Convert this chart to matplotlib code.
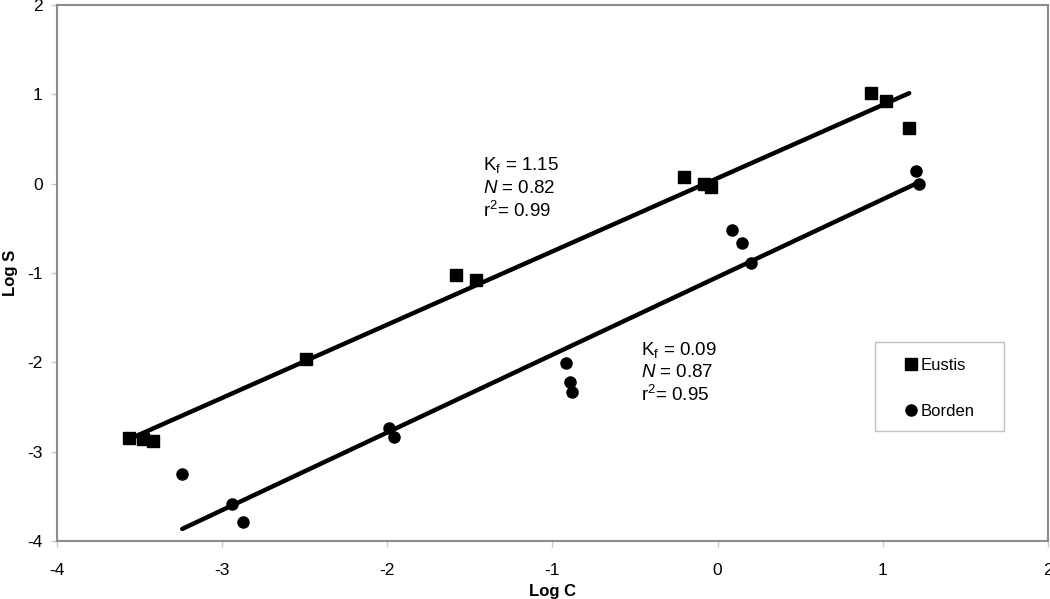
import numpy as np
import matplotlib
matplotlib.use('Agg')
import matplotlib.pyplot as plt
from matplotlib.patches import Rectangle

plt.rcParams['font.family'] = ['Liberation Sans', 'DejaVu Sans']
plt.rcParams['axes.unicode_minus'] = False
plt.rcParams['mathtext.fontset'] = 'custom'
plt.rcParams['mathtext.rm'] = 'Liberation Sans'
plt.rcParams['mathtext.it'] = 'Liberation Sans:italic'

# Eustis (squares)
eustis_x = [-3.56, -3.48, -3.42, -2.49, -1.58, -1.46, -0.20, -0.08, -0.04, 0.93, 1.02, 1.16]
eustis_y = [-2.85, -2.86, -2.88, -1.96, -1.02, -1.08, 0.07, 0.00, -0.04, 1.01, 0.92, 0.62]

# Borden (circles)
borden_x = [-3.24, -2.94, -2.87, -1.99, -1.96, -0.92, -0.89, -0.88, 0.09, 0.15, 0.20, 1.20, 1.22]
borden_y = [-3.25, -3.59, -3.79, -2.73, -2.84, -2.01, -2.22, -2.33, -0.52, -0.67, -0.89, 0.14, 0.00]

# Freundlich fit parameters
eustis_kf, eustis_n, eustis_r2 = 1.15, 0.82, 0.99
borden_kf, borden_n, borden_r2 = 0.09, 0.87, 0.95

fig = plt.figure(figsize=(10.5, 5.99), dpi=100)
ax = fig.add_axes([0.054, 0.0968, 0.944, 0.895])

# fitted lines
for xs, kf, n in [(eustis_x, eustis_kf, eustis_n), (borden_x, borden_kf, borden_n)]:
    lx = np.array([min(xs), max(xs)])
    ax.plot(lx, np.log10(kf) + n * lx, color='black', lw=3.2, solid_capstyle='round', zorder=2)

ax.plot(eustis_x, eustis_y, 's', color='black', ms=8.5, label='Eustis', zorder=3)
ax.plot(borden_x, borden_y, 'o', color='black', ms=8, label='Borden', zorder=3)

ax.set_xlim(-4, 2)
ax.set_ylim(-4, 2)
ax.set_xticks(range(-4, 3))
ax.set_yticks(range(-4, 3))

for s in ax.spines.values():
    s.set_color('#8c8c8c')
    s.set_linewidth(1.5)
ax.tick_params(direction='out', length=4, width=1, color='#c8c8c8', labelsize=12.5, pad=12)
ax.tick_params(axis='y', pad=6)

ax.set_xlabel('Log C', fontsize=12, fontweight='bold', labelpad=4)
ax.set_ylabel('Log S', fontsize=12, fontweight='bold', labelpad=7)

# annotations
fs = 13.5
ax.text(-1.42, 0.21, r'K$_\mathrm{f}$ = %.2f' % eustis_kf, fontsize=fs, va='center')
ax.text(-1.42, -0.05, r'$\mathit{N}$ = %.2f' % eustis_n, fontsize=fs, va='center')
ax.text(-1.42, -0.31, r'r$^\mathrm{2}$= %.2f' % eustis_r2, fontsize=fs, va='center')

ax.text(-0.465, -1.86, r'K$_\mathrm{f}$ = %.2f' % borden_kf, fontsize=fs, va='center')
ax.text(-0.465, -2.11, r'$\mathit{N}$ = %.2f' % borden_n, fontsize=fs, va='center')
ax.text(-0.465, -2.37, r'r$^\mathrm{2}$= %.2f' % borden_r2, fontsize=fs, va='center')

# legend: box drawn separately to get the wide left margin
ax.add_patch(Rectangle((0.8255, 0.2052), 0.1301, 0.1661, transform=ax.transAxes,
                       facecolor='white', edgecolor='#c0c0c0', lw=1, zorder=4))
leg = ax.legend(loc='upper left', bbox_to_anchor=(0.8547, 0.341), fontsize=12,
                frameon=False, handlelength=0.8, handletextpad=0.2,
                labelspacing=1.85, borderpad=0, borderaxespad=0)
leg.set_zorder(5)

fig.savefig('out.png', dpi=100)
